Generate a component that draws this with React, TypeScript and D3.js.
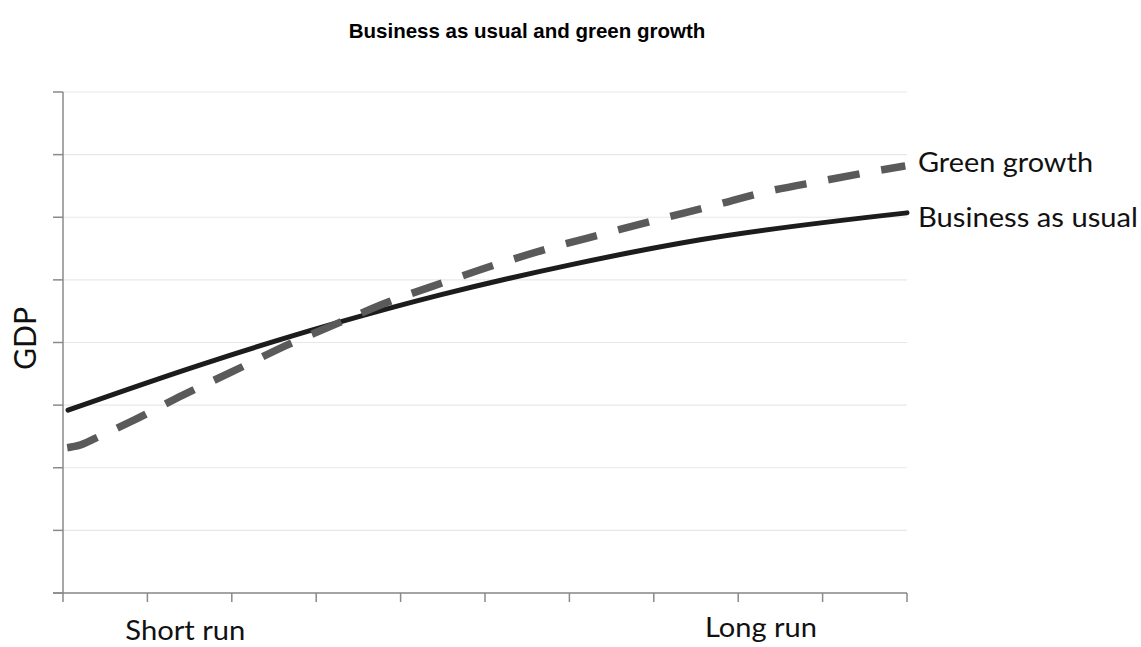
import React from "react";
import * as d3 from "d3";

const title = "Business as usual and green growth";
const yAxisLabel = "GDP";
const xTickValues = [0, 1, 2, 3, 4, 5, 6, 7, 8, 9, 10];
const yTickValues = [0, 1, 2, 3, 4, 5, 6, 7, 8];
const xCategoryLabels = ["Short run", "Long run"];
const xCategoryPositions = [1.45, 8.27];

const bauX = [0.06, 1.62, 3.16, 4.47, 6.01, 7.55, 10];
const bauY = [2.92, 3.64, 4.28, 4.76, 5.24, 5.64, 6.07];

const greenX = [0.05, 0.2, 0.4, 0.84, 1.42, 2.03, 2.64, 3.26, 3.86, 4.49, 5.12, 5.75, 6.39, 7.04, 7.69, 8.34, 8.99, 9.63, 9.98];
const greenY = [2.32, 2.36, 2.48, 2.76, 3.16, 3.55, 3.95, 4.31, 4.65, 4.95, 5.24, 5.5, 5.73, 5.96, 6.18, 6.41, 6.58, 6.74, 6.82];

const seriesNames = ["Green growth", "Business as usual"];

export default function App() {
  const W = 1141, H = 647;
  const x = d3.scaleLinear().domain([0, 10]).range([63, 907]);
  const y = d3.scaleLinear().domain([0, 8]).range([593, 92]);

  const line = d3
    .line<[number, number]>()
    .x((d) => x(d[0]))
    .y((d) => y(d[1]))
    .curve(d3.curveMonotoneX);

  const bau: [number, number][] = bauX.map((v, i) => [v, bauY[i]]);
  const green: [number, number][] = greenX.map((v, i) => [v, greenY[i]]);

  const font = "Lato, 'Open Sans', sans-serif";
  const axisColor = "#8a8a8a";

  return (
    <svg width={W} height={H} style={{ position: "absolute", left: 0, top: 0, background: "#fff" }}>
      <rect x={0} y={0} width={W} height={H} fill="#fff" />
      <text x={527} y={38} textAnchor="middle" fontFamily="'Liberation Sans', Arial, sans-serif" fontWeight="bold" fontSize={20.5} fill="#000">
        {title}
      </text>

      {yTickValues.map((t) => (
        <line key={"g" + t} x1={x(0)} x2={x(10)} y1={y(t)} y2={y(t)} stroke="#e8e8e8" strokeWidth={1.2} />
      ))}

      {yTickValues.map((t) => (
        <line key={"yt" + t} x1={x(0) - 10} x2={x(0)} y1={y(t)} y2={y(t)} stroke={axisColor} strokeWidth={1.5} />
      ))}
      {xTickValues.map((t) => (
        <line key={"xt" + t} x1={x(t)} x2={x(t)} y1={y(0)} y2={y(0) + 9} stroke={axisColor} strokeWidth={1.5} />
      ))}
      <line x1={x(0)} x2={x(0)} y1={y(8)} y2={y(0)} stroke={axisColor} strokeWidth={1.5} />
      <line x1={x(0) - 10} x2={x(10)} y1={y(0)} y2={y(0)} stroke={axisColor} strokeWidth={1.5} />

      <path d={line(bau) || ""} fill="none" stroke="#1c1c1c" strokeWidth={5} strokeLinecap="round" />
      <path d={line(green) || ""} fill="none" stroke="#5a5a5a" strokeWidth={7.5} strokeDasharray="32 22" strokeLinecap="butt" />

      <text x={918} y={172} fontFamily={font} fontSize={26} fill="#111" textLength={175} lengthAdjust="spacingAndGlyphs">{seriesNames[0]}</text>
      <text x={918} y={227} fontFamily={font} fontSize={26} fill="#111" textLength={220} lengthAdjust="spacingAndGlyphs">{seriesNames[1]}</text>

      <text transform={`translate(36, 338.5) rotate(-90)`} textAnchor="middle" fontFamily={font} fontSize={30} fill="#111" textLength={63} lengthAdjust="spacingAndGlyphs">
        {yAxisLabel}
      </text>

      {xCategoryLabels.map((l, i) => (
        <text key={l} x={x(xCategoryPositions[i])} y={i === 0 ? 640 : 637} textAnchor="middle" fontFamily={font} fontSize={26} fill="#111" textLength={i === 0 ? 120 : 112} lengthAdjust="spacingAndGlyphs">
          {l}
        </text>
      ))}
    </svg>
  );
}
